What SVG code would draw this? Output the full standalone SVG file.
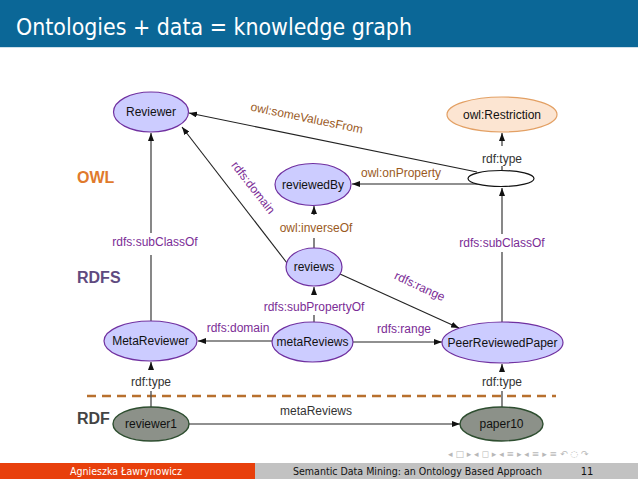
<svg xmlns="http://www.w3.org/2000/svg" width="638" height="479" viewBox="0 0 638 479">
<style>
.cls{fill:#ccccff;stroke:#7030a0;stroke-width:1.2}
.rdf{fill:#8c9189;stroke:#2e4e30;stroke-width:1.4}
.nt{font-family:"Liberation Sans",Arial,sans-serif;font-size:12px;fill:#111;text-anchor:middle}
.lb{font-family:"Liberation Sans",Arial,sans-serif;font-size:12px;text-anchor:middle}
.pu{fill:#7b2c96}
.br{fill:#9a5a1e}
.dk{fill:#333}
.e{stroke:#222;stroke-width:1.1;fill:none}
.ev{stroke:#555;stroke-width:1.4;fill:none}
.lay{font-family:"Liberation Sans",Arial,sans-serif;font-size:16px;font-weight:bold}
</style>
<defs>
<marker id="ah" viewBox="0 0 8 6" refX="8" refY="3" markerWidth="8" markerHeight="6" markerUnits="userSpaceOnUse" orient="auto">
<path d="M0,0 L8,3 L0,6 z" fill="#111"/>
</marker>
</defs>
<rect x="0" y="0" width="638" height="479" fill="#fff"/>
<rect x="0" y="0" width="638" height="47" fill="#0b6797"/>
<line x1="0" y1="47.5" x2="638" y2="47.5" stroke="#cfe0ea" stroke-width="1"/>
<text x="16" y="35" font-family="DejaVu Sans, sans-serif" font-size="23" fill="#fff" textLength="396" lengthAdjust="spacingAndGlyphs">Ontologies + data = knowledge graph</text>

<text class="lay" x="77" y="183" fill="#e07a2c">OWL</text>
<text class="lay" x="77" y="283" fill="#5f4a80">RDFS</text>
<text class="lay" x="77" y="424" fill="#444">RDF</text>
<line x1="87" y1="396" x2="556" y2="396" stroke="#b8702e" stroke-width="2.5" stroke-dasharray="9,6"/>

<g id="connectors">
<line class="ev" x1="151" y1="321" x2="151" y2="255"/>
<line class="ev" x1="151" y1="233" x2="151" y2="133" marker-end="url(#ah)"/>
<text class="lb pu" x="155" y="246">rdfs:subClassOf</text>
<line class="ev" x1="151" y1="407" x2="151" y2="391"/>
<line class="ev" x1="151" y1="370" x2="151" y2="362" marker-end="url(#ah)"/>
<text class="lb dk" x="151" y="386">rdf:type</text>
<line class="ev" x1="502" y1="407" x2="502" y2="391"/>
<line class="ev" x1="502" y1="370" x2="502" y2="364" marker-end="url(#ah)"/>
<text class="lb dk" x="502" y="386">rdf:type</text>
<line class="e" x1="189" y1="424" x2="460" y2="424" marker-end="url(#ah)"/>
<text class="lb dk" x="316" y="415">metaReviews</text>
<line class="e" x1="272" y1="341" x2="198" y2="341" marker-end="url(#ah)"/>
<text class="lb pu" x="238" y="332">rdfs:domain</text>
<line class="e" x1="353" y1="342" x2="442" y2="342" marker-end="url(#ah)"/>
<text class="lb pu" x="404" y="333">rdfs:range</text>
<line class="e" x1="314" y1="322" x2="314" y2="315"/>
<line class="e" x1="314" y1="294" x2="314" y2="287" marker-end="url(#ah)"/>
<text class="lb pu" x="314" y="311">rdfs:subPropertyOf</text>
<line class="e" x1="340" y1="274" x2="459" y2="328" marker-end="url(#ah)"/>
<text class="lb pu" transform="translate(418,290) rotate(25)" x="0" y="0">rdfs:range</text>
<line class="e" x1="287" y1="263" x2="182" y2="127" marker-end="url(#ah)"/>
<text class="lb pu" transform="translate(250,190) rotate(52)" x="0" y="0">rdfs:domain</text>
<line class="e" x1="314" y1="248" x2="314" y2="238"/>
<line class="e" x1="314" y1="215" x2="314" y2="206" marker-end="url(#ah)"/>
<text class="lb br" x="316" y="232">owl:inverseOf</text>
<line class="e" x1="478" y1="184" x2="352" y2="184" marker-end="url(#ah)"/>
<text class="lb br" x="401" y="177">owl:onProperty</text>
<line class="e" x1="477" y1="172" x2="189" y2="113" marker-end="url(#ah)"/>
<text class="lb br" transform="translate(306,122) rotate(11.5)" x="0" y="0">owl:someValuesFrom</text>
<line class="e" x1="502" y1="170" x2="502" y2="166"/>
<line class="e" x1="502" y1="146" x2="502" y2="133" marker-end="url(#ah)"/>
<text class="lb dk" x="502" y="163">rdf:type</text>
<line class="ev" x1="502" y1="322" x2="502" y2="252"/>
<line class="ev" x1="502" y1="234" x2="502" y2="188" marker-end="url(#ah)"/>
<text class="lb pu" x="502" y="247">rdfs:subClassOf</text>
</g>

<g id="Reviewer"><ellipse class="cls" cx="151" cy="112" rx="37.5" ry="20"/><text class="nt" x="151" y="116">Reviewer</text></g>
<g id="reviewedBy"><ellipse class="cls" cx="313" cy="184.5" rx="38" ry="21"/><text class="nt" x="313" y="189">reviewedBy</text></g>
<g id="owlRestriction"><ellipse cx="502" cy="114.5" rx="55" ry="17.5" fill="#fce5d2" stroke="#e3a064" stroke-width="1.2"/><text class="nt" x="502" y="119">owl:Restriction</text></g>
<g id="blank"><ellipse cx="501" cy="178.5" rx="33" ry="8" fill="#fff" stroke="#111" stroke-width="1.2"/></g>
<g id="reviews"><ellipse class="cls" cx="314" cy="267" rx="28" ry="19"/><text class="nt" x="314" y="271">reviews</text></g>
<g id="MetaReviewer"><ellipse class="cls" cx="150.5" cy="341" rx="46.5" ry="20"/><text class="nt" x="150.5" y="345">MetaReviewer</text></g>
<g id="metaReviews"><ellipse class="cls" cx="312.5" cy="342" rx="40.5" ry="20"/><text class="nt" x="312.5" y="346">metaReviews</text></g>
<g id="PeerReviewedPaper"><ellipse class="cls" cx="502.5" cy="342.5" rx="60.5" ry="20.5"/><text class="nt" x="502.5" y="347">PeerReviewedPaper</text></g>
<g id="reviewer1"><ellipse class="rdf" cx="151" cy="424" rx="38" ry="17"/><text class="nt" x="151" y="428">reviewer1</text></g>
<g id="paper10"><ellipse class="rdf" cx="501.5" cy="424" rx="41.5" ry="17"/><text class="nt" x="501.5" y="428">paper10</text></g>

<text x="448" y="457" font-family="DejaVu Sans, sans-serif" font-size="9" fill="#b8b8b8">◂ □ ▸  ◂ ◻ ▸  ◂ ≡ ▸  ◂ ≡ ▸    ≡    ↶ ◌ ↷</text>

<rect x="0" y="463" width="255" height="16" fill="#e8400c"/>
<rect x="255" y="463" width="383" height="16" fill="#c2c2c2"/>
<text x="126" y="474.5" font-family="DejaVu Sans, sans-serif" font-size="10" fill="#fff" text-anchor="middle" textLength="112" lengthAdjust="spacingAndGlyphs">Agnieszka Ławrynowicz</text>
<text x="293" y="474.5" font-family="DejaVu Sans, sans-serif" font-size="10" fill="#111" textLength="249" lengthAdjust="spacingAndGlyphs">Semantic Data Mining: an Ontology Based Approach</text>
<text x="587" y="474.5" font-family="DejaVu Sans, sans-serif" font-size="10" fill="#111" text-anchor="middle">11</text>
</svg>
